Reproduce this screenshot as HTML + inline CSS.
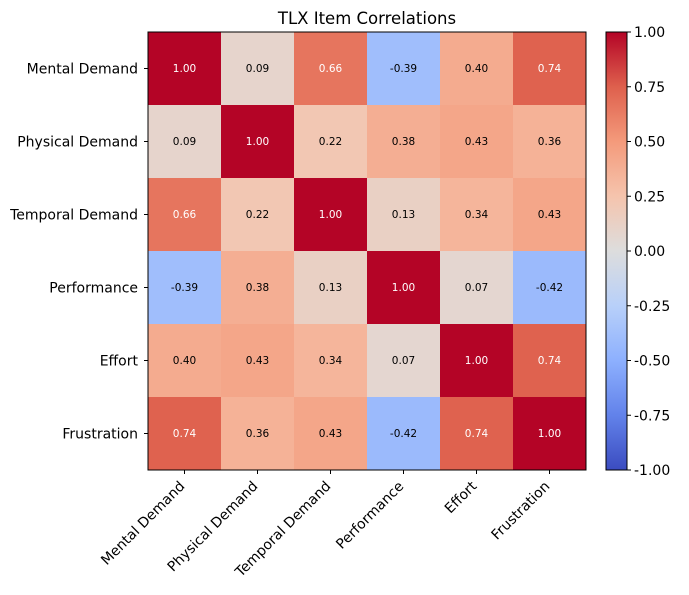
<!DOCTYPE html>
<html><head><meta charset="utf-8"><style>
body{margin:0;background:#fff;font-family:"Liberation Sans","DejaVu Sans",sans-serif;}
</style></head><body>
<svg id="chart" width="689" height="590" xmlns="http://www.w3.org/2000/svg" font-family="'DejaVu Sans','Liberation Sans',sans-serif"></svg>
<script>
const labels = ["Mental Demand","Physical Demand","Temporal Demand","Performance","Effort","Frustration"];
const row0 = [1.00,0.09,0.66,-0.39,0.40,0.74];
const row1 = [0.09,1.00,0.22,0.38,0.43,0.36];
const row2 = [0.66,0.22,1.00,0.13,0.34,0.43];
const row3 = [-0.39,0.38,0.13,1.00,0.07,-0.42];
const row4 = [0.40,0.43,0.34,0.07,1.00,0.74];
const row5 = [0.74,0.36,0.43,-0.42,0.74,1.00];
const matrix = [row0,row1,row2,row3,row4,row5];
const cbTicks = [1.00,0.75,0.50,0.25,0.00,-0.25,-0.50,-0.75,-1.00];

const NS="http://www.w3.org/2000/svg";
const svg=document.getElementById('chart');
function mk(t,a,p){const e=document.createElementNS(NS,t);for(const k in a)e.setAttribute(k,a[k]);(p||svg).appendChild(e);return e;}
const stops=[[59,76,192],[98,130,234],[141,176,254],[184,208,249],[221,221,221],[245,196,173],[244,154,123],[222,96,77],[180,4,38]];
function cmap(v){let t=(v+1)/2;t=Math.max(0,Math.min(1,t));const f=t*8;const i=Math.min(7,Math.floor(f));const r=f-i;
const c=stops[i].map((s,k)=>Math.round(s+(stops[i+1][k]-s)*r));return `rgb(${c[0]},${c[1]},${c[2]})`;}
const X0=148,Y0=32,W=438,H=438,n=labels.length,cw=W/n,ch=H/n;
const xS=j=>X0+j*cw, yS=i=>Y0+i*ch;

let t=mk('text',{x:367,y:24,'text-anchor':'middle','font-size':16.5,fill:'#000'});t.textContent='TLX Item Correlations';


matrix.forEach((row,i)=>row.forEach((v,j)=>{
 const r=mk('rect',{x:xS(j),y:yS(i),width:cw+0.5,height:ch+0.5,fill:cmap(v)});
 
 
 const tx=mk('text',{x:xS(j)+cw/2,y:yS(i)+ch/2+3.5,'text-anchor':'middle','font-size':10.5,fill:Math.abs(v)>0.5?'#fff':'#000'});
 tx.textContent=v.toFixed(2);
 
 
}));
mk('rect',{x:X0,y:Y0,width:W,height:H,fill:'none',stroke:'#000','stroke-width':1});

labels.forEach((l,i)=>{
 const y=yS(i)+ch/2;
 mk('line',{x1:X0-4,x2:X0,y1:y,y2:y,stroke:'#000'});
 const a=mk('text',{x:X0-10,y:y+5,'text-anchor':'end','font-size':14});a.textContent=l;
 
 const x=xS(i)+cw/2;
 mk('line',{x1:x,x2:x,y1:Y0+H,y2:Y0+H+4,stroke:'#000'});
 const ax=x+1, ay=Y0+H+17;
 const b=mk('text',{x:ax,y:ay,'text-anchor':'end','font-size':14,transform:`rotate(-45 ${ax} ${ay})`});b.textContent=l;
 
});

// colorbar
const CX=606,CW=21;
const cbY=v=>Y0+(1-v)/2*H;
const defs=mk('defs',{});const g=mk('linearGradient',{id:'cg',x1:0,y1:1,x2:0,y2:0},defs);
for(let k=0;k<=8;k++)mk('stop',{offset:k/8,'stop-color':`rgb(${stops[k].join(',')})`},g);
const cb=mk('rect',{x:CX,y:cbY(1),width:CW,height:cbY(-1)-cbY(1),fill:'url(#cg)',stroke:'#000','stroke-width':1});

cbTicks.forEach(v=>{const y=cbY(v);
 mk('line',{x1:CX+CW,x2:CX+CW+4,y1:y,y2:y,stroke:'#000'});
 const a=mk('text',{x:CX+CW+7,y:y+5,'font-size':14});a.textContent=v.toFixed(2);
 
});
</script>
</body></html>
